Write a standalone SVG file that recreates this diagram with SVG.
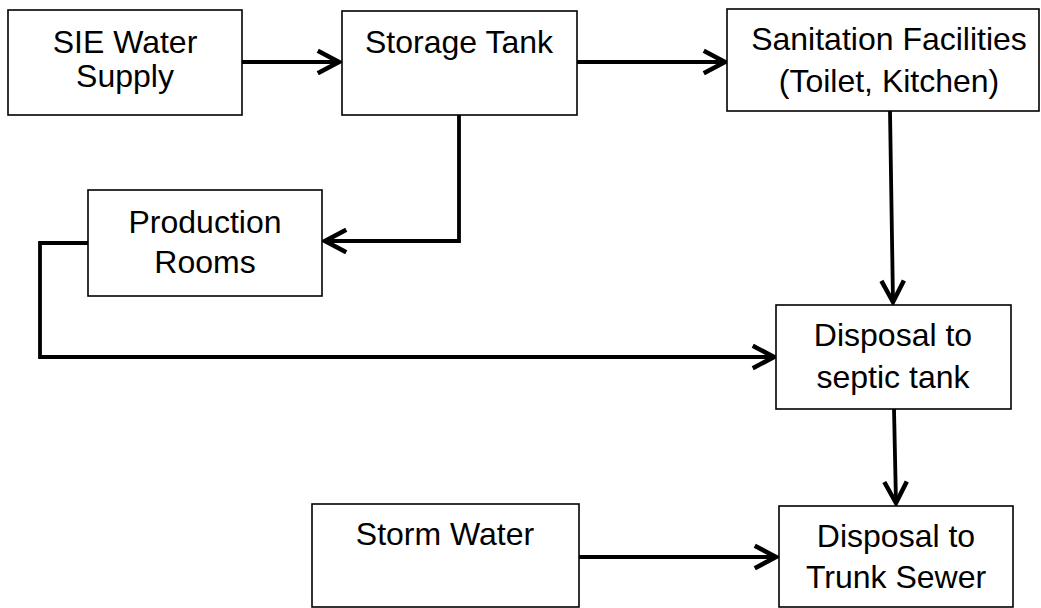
<svg xmlns="http://www.w3.org/2000/svg" width="1041" height="608" viewBox="0 0 1041 608">
<style>
.box{fill:#fff;stroke:#000;stroke-width:1.6}
.t{font-family:"Liberation Sans",Arial,sans-serif;font-size:32px;fill:#000;text-anchor:middle}
.c{fill:none;stroke:#000;stroke-width:3.8;stroke-linejoin:miter}
</style>
<defs>
<marker id="arr" markerUnits="userSpaceOnUse" markerWidth="30" markerHeight="30" refX="0" refY="0" viewBox="-22 -12 24 24" orient="auto" overflow="visible">
<path d="M-17,-9 L0,0 L-17,9" fill="none" stroke="#000" stroke-width="3.6"/>
</marker>
</defs>
<rect width="1041" height="608" fill="#fff"/>
<g id="connectors">
<path class="c" d="M242,62 H339" marker-end="url(#arr)"/>
<path class="c" d="M577,62 H725" marker-end="url(#arr)"/>
<path class="c" d="M459,115 V241 H325" marker-end="url(#arr)"/>
<path class="c" d="M890,111 L893,302" marker-end="url(#arr)"/>
<path class="c" d="M88,243 H40 V357 H774" marker-end="url(#arr)"/>
<path class="c" d="M894,409 L896,503" marker-end="url(#arr)"/>
<path class="c" d="M579,557 H776" marker-end="url(#arr)"/>
</g>
<g id="sie">
<rect class="box" x="8" y="10" width="234" height="105"/>
<text class="t" x="125" y="53">SIE Water</text>
<text class="t" x="125" y="87">Supply</text>
</g>
<g id="storage">
<rect class="box" x="342" y="11" width="235" height="104"/>
<text class="t" x="459" y="53">Storage Tank</text>
</g>
<g id="sanitation">
<rect class="box" x="727" y="9" width="312" height="102"/>
<text class="t" x="889" y="50">Sanitation Facilities</text>
<text class="t" x="889" y="92">(Toilet, Kitchen)</text>
</g>
<g id="production">
<rect class="box" x="88" y="190" width="234" height="106"/>
<text class="t" x="205" y="233">Production</text>
<text class="t" x="205" y="273">Rooms</text>
</g>
<g id="septic">
<rect class="box" x="776" y="305" width="235" height="104"/>
<text class="t" x="893" y="346">Disposal to</text>
<text class="t" x="893" y="388">septic tank</text>
</g>
<g id="storm">
<rect class="box" x="312" y="504" width="267" height="103"/>
<text class="t" x="445" y="545">Storm Water</text>
</g>
<g id="trunk">
<rect class="box" x="779" y="506" width="234" height="101"/>
<text class="t" x="896" y="547">Disposal to</text>
<text class="t" x="896" y="588">Trunk Sewer</text>
</g>
</svg>
